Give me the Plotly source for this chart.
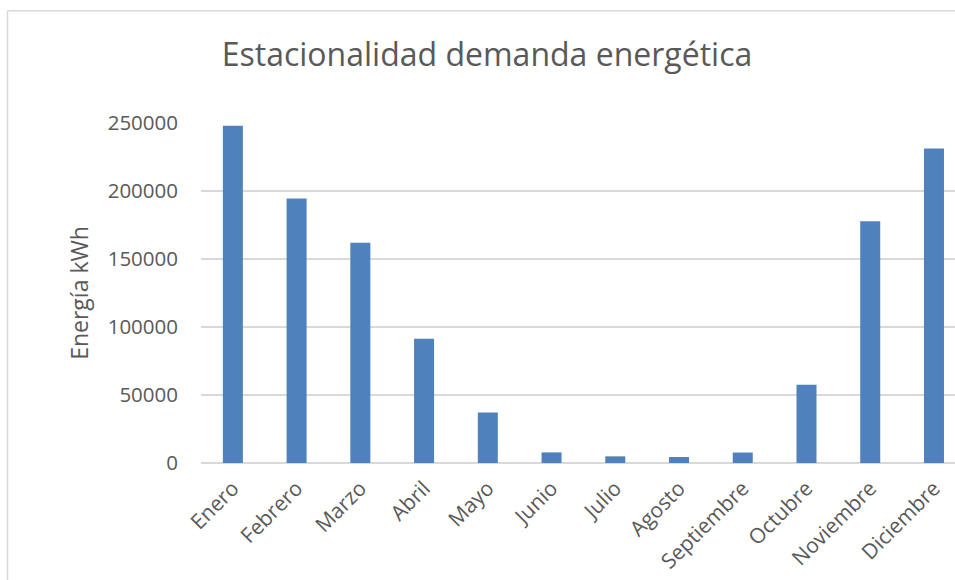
import plotly.graph_objects as go

months = ["Enero", "Febrero", "Marzo", "Abril", "Mayo", "Junio", "Julio",
          "Agosto", "Septiembre", "Octubre", "Noviembre", "Diciembre"]
energy_kwh = [248000, 194500, 162000, 91300, 37200, 7800, 4900,
              4400, 7700, 57500, 177800, 231200]
y_ticks = [0, 50000, 100000, 150000, 200000, 250000]

TEXT = "#595959"
GRID = "#d9d9d9"
FONT = "Open Sans"

W, H = 955, 580
L, T, B = 201, 123, 117
PW = W - L
PH = H - T - B

fig = go.Figure(go.Bar(
    x=months, y=energy_kwh,
    marker=dict(color="#4F81BD", line=dict(width=0)),
    width=0.314,
))

bx = (7.5 - L) / PW
by = (H - B - 10.7) / PH

fig.update_layout(
    width=W, height=H,
    margin=dict(l=L, r=0, t=T, b=B, autoexpand=False),
    paper_bgcolor="white", plot_bgcolor="white",
    showlegend=False,
    font=dict(family=FONT, color=TEXT),
    title=dict(text="Estacionalidad demanda energética",
               x=487 / W, xanchor="center", xref="container",
               y=1 - 55 / H, yanchor="middle",
               font=dict(size=32, color=TEXT, family=FONT)),
    xaxis=dict(range=[-0.5, 11.33], tickangle=-45, showgrid=False,
               showline=False, ticks="", ticklabelstandoff=8,
               automargin=False,
               tickfont=dict(size=21, color=TEXT)),
    yaxis=dict(range=[0, 250000], tickvals=y_ticks,
               ticktext=[str(v) for v in y_ticks],
               showgrid=True, gridcolor=GRID, gridwidth=1.5,
               zeroline=True, zerolinecolor=GRID, zerolinewidth=1.5,
               tickfont=dict(size=20.5, color=TEXT), ticks="",
               ticklabelstandoff=22, automargin=False,
               title=dict(text="Energía kWh", font=dict(size=23, color=TEXT),
                          standoff=12)),
    shapes=[
        dict(type="line", xref="paper", yref="paper",
             x0=bx, x1=bx, y0=-0.5, y1=by,
             line=dict(color=GRID, width=1.5)),
        dict(type="line", xref="paper", yref="paper",
             x0=bx, x1=1.2, y0=by, y1=by,
             line=dict(color=GRID, width=1.5)),
    ],
)

fig.write_html(
    "out.html",
    config={"displayModeBar": False},
    post_script="document.body.style.margin='0';document.body.style.overflow='hidden';",
)
